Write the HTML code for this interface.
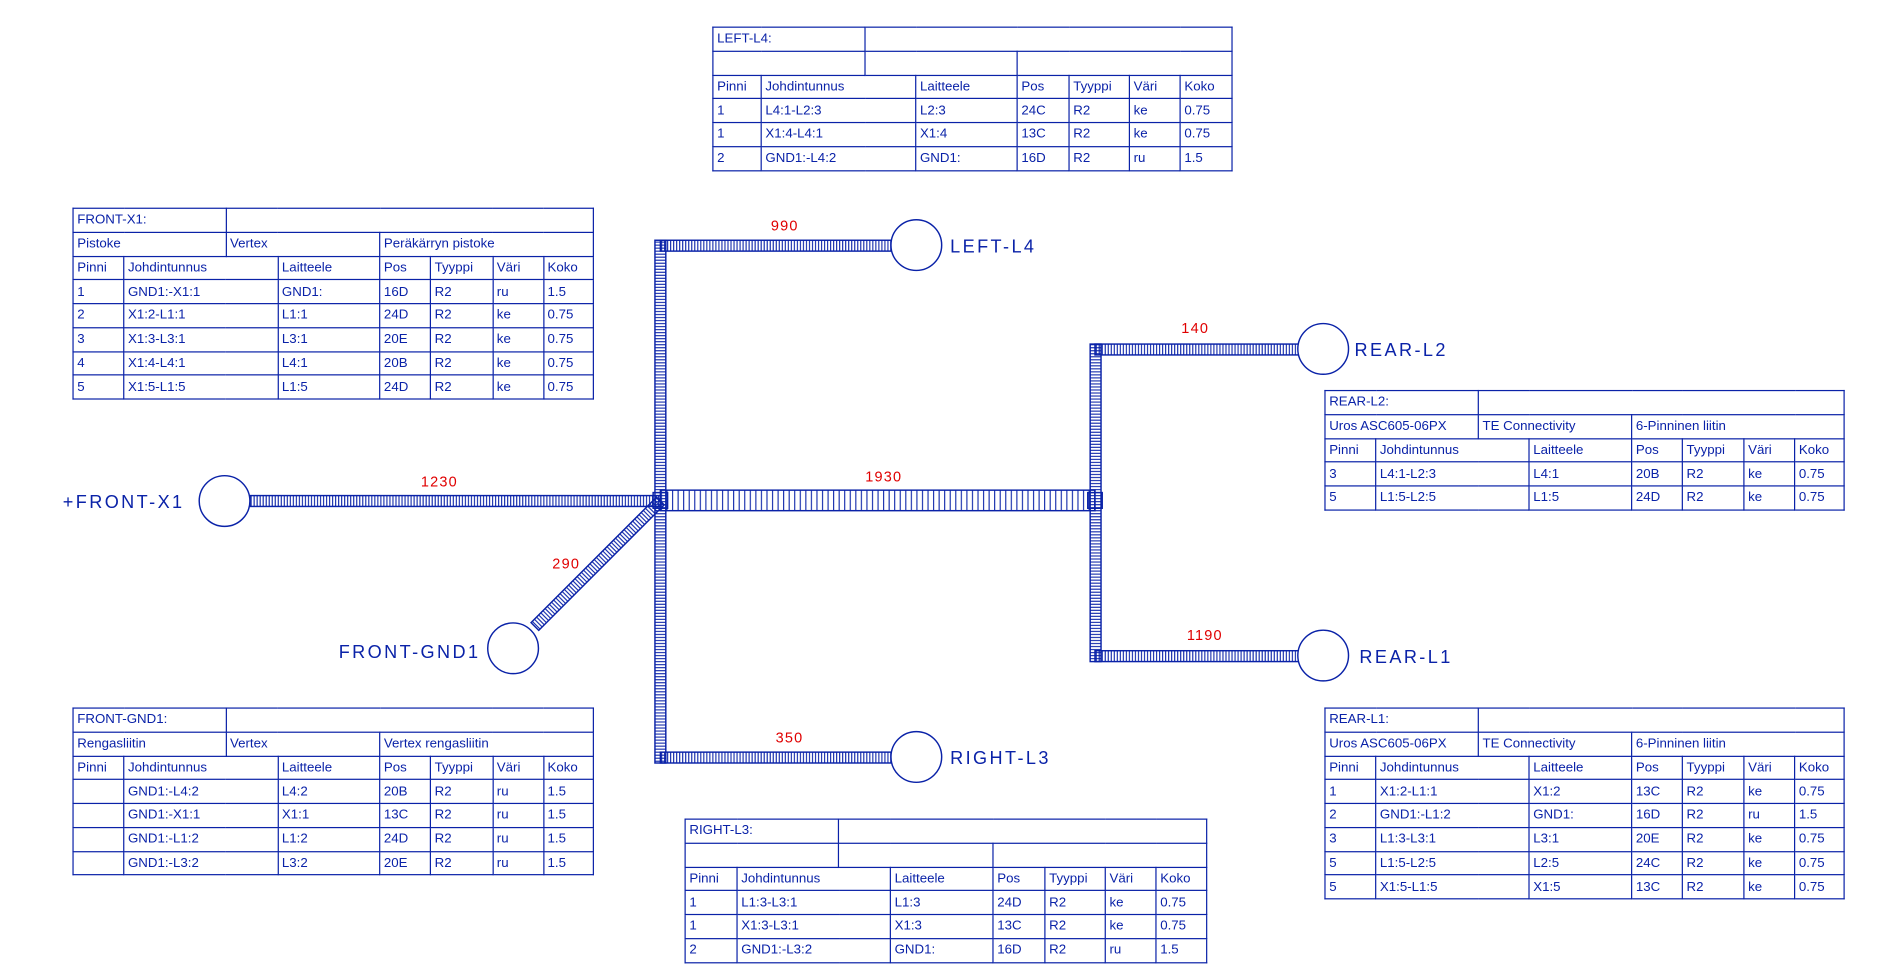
<!DOCTYPE html>
<html><head><meta charset="utf-8"><style>
html,body{margin:0;padding:0;background:#fff;width:1893px;height:975px;overflow:hidden}
#w{position:absolute;left:0;top:0;width:1568px;height:808px;transform:scale(1.20727);transform-origin:0 0}
table{position:absolute;border-collapse:collapse;table-layout:fixed;font-family:"Liberation Sans",sans-serif;font-size:11px;color:#0a22a8}
td{border:1px solid #0a22a8;height:19.75px;box-sizing:border-box;padding:0 3px;white-space:nowrap;overflow:hidden;line-height:12px}
svg{position:absolute;left:0;top:0}
.lb{font-family:"Liberation Sans",sans-serif;font-size:15px;fill:#0a22a8;letter-spacing:2px}
.n{font-family:"Liberation Sans",sans-serif;font-size:12px;fill:#e00000;letter-spacing:1px}
</style></head><body><div id="w">
<svg width="1568" height="808" viewBox="0 0 1568 808">
<defs>
<pattern id="ht" patternUnits="userSpaceOnUse" width="2.5" height="20"><line x1="0.5" y1="0" x2="0.5" y2="20" stroke="#0a22a8" stroke-width="0.9"/></pattern>
<pattern id="vt" patternUnits="userSpaceOnUse" width="20" height="2.5"><line x1="0" y1="0.5" x2="20" y2="0.5" stroke="#0a22a8" stroke-width="0.9"/></pattern>
<pattern id="hk" patternUnits="userSpaceOnUse" width="4.6" height="40"><line x1="0.5" y1="0" x2="0.5" y2="40" stroke="#0a22a8" stroke-width="0.9"/></pattern>
</defs>
<g stroke="#0a22a8" stroke-width="1.2">
<rect x="207" y="410.5" width="340" height="9" fill="url(#ht)"/>
<rect x="547" y="406" width="360" height="17" fill="url(#hk)"/>
<rect x="542.5" y="199" width="9" height="433" fill="url(#vt)"/>
<rect x="547" y="199" width="191" height="9" fill="url(#ht)"/>
<rect x="547" y="623" width="191" height="9" fill="url(#ht)"/>
<rect x="903" y="285" width="9" height="263" fill="url(#vt)"/>
<rect x="907" y="285" width="169" height="9" fill="url(#ht)"/>
<rect x="907" y="539" width="169" height="9" fill="url(#ht)"/>
<g transform="translate(547,415) rotate(135)"><rect x="0" y="-4.5" width="147" height="9" fill="url(#ht)"/></g>
<rect x="541" y="408" width="12" height="13" fill="none"/>
<rect x="901" y="408" width="12" height="13" fill="none"/>
<g fill="#fff">
<circle cx="186" cy="415" r="21"/><circle cx="759" cy="203" r="21"/><circle cx="1096" cy="289" r="21"/>
<circle cx="1096" cy="543" r="21"/><circle cx="759" cy="627" r="21"/><circle cx="425" cy="537" r="21"/>
</g></g>
<text class="lb" x="52" y="421">+FRONT-X1</text>
<text class="lb" x="787" y="209">LEFT-L4</text>
<text class="lb" x="1122" y="295">REAR-L2</text>
<text class="lb" x="1126" y="549">REAR-L1</text>
<text class="lb" x="787" y="633">RIGHT-L3</text>
<text class="lb" x="398" y="545" text-anchor="end">FRONT-GND1</text>
<text class="n" x="650" y="191" text-anchor="middle">990</text>
<text class="n" x="990" y="276" text-anchor="middle">140</text>
<text class="n" x="364" y="403" text-anchor="middle">1230</text>
<text class="n" x="732" y="399" text-anchor="middle">1930</text>
<text class="n" x="469" y="471" text-anchor="middle">290</text>
<text class="n" x="998" y="530" text-anchor="middle">1190</text>
<text class="n" x="654" y="615" text-anchor="middle">350</text>
</svg>

<table style="left:590px;top:22px;width:430px"><colgroup><col style="width:40px"><col style="width:86px"><col style="width:42px"><col style="width:84px"><col style="width:43px"><col style="width:50px"><col style="width:42px"><col style="width:43px"></colgroup>
<tr><td colspan="2">LEFT-L4:</td><td colspan="6"></td></tr>
<tr><td colspan="2"></td><td colspan="2"></td><td colspan="4"></td></tr>
<tr><td>Pinni</td><td colspan="2">Johdintunnus</td><td>Laitteele</td><td>Pos</td><td>Tyyppi</td><td>Väri</td><td>Koko</td></tr>
<tr><td>1</td><td colspan="2">L4:1-L2:3</td><td>L2:3</td><td>24C</td><td>R2</td><td>ke</td><td>0.75</td></tr>
<tr><td>1</td><td colspan="2">X1:4-L4:1</td><td>X1:4</td><td>13C</td><td>R2</td><td>ke</td><td>0.75</td></tr>
<tr><td>2</td><td colspan="2">GND1:-L4:2</td><td>GND1:</td><td>16D</td><td>R2</td><td>ru</td><td>1.5</td></tr>
</table>

<table style="left:60px;top:172px;width:431px"><colgroup><col style="width:42px"><col style="width:84.5px"><col style="width:43px"><col style="width:84.5px"><col style="width:42px"><col style="width:51.5px"><col style="width:42px"><col style="width:41.5px"></colgroup>
<tr><td colspan="2">FRONT-X1:</td><td colspan="6"></td></tr>
<tr><td colspan="2">Pistoke</td><td colspan="2">Vertex</td><td colspan="4">Peräkärryn pistoke</td></tr>
<tr><td>Pinni</td><td colspan="2">Johdintunnus</td><td>Laitteele</td><td>Pos</td><td>Tyyppi</td><td>Väri</td><td>Koko</td></tr>
<tr><td>1</td><td colspan="2">GND1:-X1:1</td><td>GND1:</td><td>16D</td><td>R2</td><td>ru</td><td>1.5</td></tr>
<tr><td>2</td><td colspan="2">X1:2-L1:1</td><td>L1:1</td><td>24D</td><td>R2</td><td>ke</td><td>0.75</td></tr>
<tr><td>3</td><td colspan="2">X1:3-L3:1</td><td>L3:1</td><td>20E</td><td>R2</td><td>ke</td><td>0.75</td></tr>
<tr><td>4</td><td colspan="2">X1:4-L4:1</td><td>L4:1</td><td>20B</td><td>R2</td><td>ke</td><td>0.75</td></tr>
<tr><td>5</td><td colspan="2">X1:5-L1:5</td><td>L1:5</td><td>24D</td><td>R2</td><td>ke</td><td>0.75</td></tr>
</table>

<table style="left:60px;top:586px;width:431px"><colgroup><col style="width:42px"><col style="width:84.5px"><col style="width:43px"><col style="width:84.5px"><col style="width:42px"><col style="width:51.5px"><col style="width:42px"><col style="width:41.5px"></colgroup>
<tr><td colspan="2">FRONT-GND1:</td><td colspan="6"></td></tr>
<tr><td colspan="2">Rengasliitin</td><td colspan="2">Vertex</td><td colspan="4">Vertex rengasliitin</td></tr>
<tr><td>Pinni</td><td colspan="2">Johdintunnus</td><td>Laitteele</td><td>Pos</td><td>Tyyppi</td><td>Väri</td><td>Koko</td></tr>
<tr><td></td><td colspan="2">GND1:-L4:2</td><td>L4:2</td><td>20B</td><td>R2</td><td>ru</td><td>1.5</td></tr>
<tr><td></td><td colspan="2">GND1:-X1:1</td><td>X1:1</td><td>13C</td><td>R2</td><td>ru</td><td>1.5</td></tr>
<tr><td></td><td colspan="2">GND1:-L1:2</td><td>L1:2</td><td>24D</td><td>R2</td><td>ru</td><td>1.5</td></tr>
<tr><td></td><td colspan="2">GND1:-L3:2</td><td>L3:2</td><td>20E</td><td>R2</td><td>ru</td><td>1.5</td></tr>
</table>

<table style="left:1097px;top:323px;width:430px"><colgroup><col style="width:42px"><col style="width:85px"><col style="width:42px"><col style="width:85px"><col style="width:42px"><col style="width:51px"><col style="width:42px"><col style="width:41px"></colgroup>
<tr><td colspan="2">REAR-L2:</td><td colspan="6"></td></tr>
<tr><td colspan="2">Uros ASC605-06PX</td><td colspan="2">TE Connectivity</td><td colspan="4">6-Pinninen liitin</td></tr>
<tr><td>Pinni</td><td colspan="2">Johdintunnus</td><td>Laitteele</td><td>Pos</td><td>Tyyppi</td><td>Väri</td><td>Koko</td></tr>
<tr><td>3</td><td colspan="2">L4:1-L2:3</td><td>L4:1</td><td>20B</td><td>R2</td><td>ke</td><td>0.75</td></tr>
<tr><td>5</td><td colspan="2">L1:5-L2:5</td><td>L1:5</td><td>24D</td><td>R2</td><td>ke</td><td>0.75</td></tr>
</table>

<table style="left:1097px;top:586px;width:430px"><colgroup><col style="width:42px"><col style="width:85px"><col style="width:42px"><col style="width:85px"><col style="width:42px"><col style="width:51px"><col style="width:42px"><col style="width:41px"></colgroup>
<tr><td colspan="2">REAR-L1:</td><td colspan="6"></td></tr>
<tr><td colspan="2">Uros ASC605-06PX</td><td colspan="2">TE Connectivity</td><td colspan="4">6-Pinninen liitin</td></tr>
<tr><td>Pinni</td><td colspan="2">Johdintunnus</td><td>Laitteele</td><td>Pos</td><td>Tyyppi</td><td>Väri</td><td>Koko</td></tr>
<tr><td>1</td><td colspan="2">X1:2-L1:1</td><td>X1:2</td><td>13C</td><td>R2</td><td>ke</td><td>0.75</td></tr>
<tr><td>2</td><td colspan="2">GND1:-L1:2</td><td>GND1:</td><td>16D</td><td>R2</td><td>ru</td><td>1.5</td></tr>
<tr><td>3</td><td colspan="2">L1:3-L3:1</td><td>L3:1</td><td>20E</td><td>R2</td><td>ke</td><td>0.75</td></tr>
<tr><td>5</td><td colspan="2">L1:5-L2:5</td><td>L2:5</td><td>24C</td><td>R2</td><td>ke</td><td>0.75</td></tr>
<tr><td>5</td><td colspan="2">X1:5-L1:5</td><td>X1:5</td><td>13C</td><td>R2</td><td>ke</td><td>0.75</td></tr>
</table>

<table style="left:567px;top:678px;width:432px"><colgroup><col style="width:43px"><col style="width:84px"><col style="width:43px"><col style="width:85px"><col style="width:43px"><col style="width:50px"><col style="width:42px"><col style="width:42px"></colgroup>
<tr><td colspan="2">RIGHT-L3:</td><td colspan="6"></td></tr>
<tr><td colspan="2"></td><td colspan="2"></td><td colspan="4"></td></tr>
<tr><td>Pinni</td><td colspan="2">Johdintunnus</td><td>Laitteele</td><td>Pos</td><td>Tyyppi</td><td>Väri</td><td>Koko</td></tr>
<tr><td>1</td><td colspan="2">L1:3-L3:1</td><td>L1:3</td><td>24D</td><td>R2</td><td>ke</td><td>0.75</td></tr>
<tr><td>1</td><td colspan="2">X1:3-L3:1</td><td>X1:3</td><td>13C</td><td>R2</td><td>ke</td><td>0.75</td></tr>
<tr><td>2</td><td colspan="2">GND1:-L3:2</td><td>GND1:</td><td>16D</td><td>R2</td><td>ru</td><td>1.5</td></tr>
</table>
</div></body></html>
